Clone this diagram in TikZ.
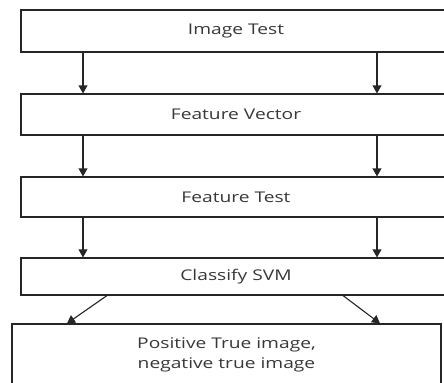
\documentclass[tikz,border=0pt]{standalone}
\usepackage{fontspec}
\setmainfont{Open Sans}[FakeStretch=1.3]
\usepackage{tikz}
\usetikzlibrary{arrows.meta,positioning,calc}

\begin{document}
\begin{tikzpicture}[
  stage/.style={rectangle, draw=black!85, line width=0.8pt, fill=white, text=black!78, font=\fontsize{10.5}{14.2}\selectfont, align=center, inner sep=0pt},
  flow/.style={-{Triangle[length=0.2cm, width=0.22cm]}, line width=0.8pt, black!85},
  >=Stealth
]
  \clip (0, 0) rectangle (11.1, -9.575);
  \useasboundingbox (0, 0) rectangle (11.1, -9.575);

  % Pipeline stages
  \node[stage, minimum width=10.75cm, minimum height=1.05cm] (img) at (5.9, -0.775) {Image Test};
  \node[stage, minimum width=10.75cm, minimum height=1.025cm] (vec) at (5.9, -2.8625) {Feature Vector};
  \node[stage, minimum width=10.75cm, minimum height=1.0cm] (ftest) at (5.9, -4.925) {Feature Test};
  \node[stage, minimum width=10.75cm, minimum height=0.925cm] (svm) at (5.9, -6.9125) {Classify SVM};
  \node[stage, minimum width=10.725cm, minimum height=1.55cm] (res) at (5.6625, -8.875) {Positive True image,\\negative true image};

  % Arrow columns
  \coordinate (colL) at (2.075, 0);
  \coordinate (colR) at (9.425, 0);
  \coordinate (svmL) at (2.675, 0);
  \coordinate (svmR) at (8.575, 0);
  \coordinate (resL) at (1.675, 0);
  \coordinate (resR) at (9.5, 0);

  % Vertical connections
  \foreach \a/\b in {img/vec, vec/ftest, ftest/svm} {
    \draw[flow] (\a.south -| colL) -- (\b.north -| colL);
    \draw[flow] (\a.south -| colR) -- (\b.north -| colR);
  }

  % Split to result
  \draw[flow] (svm.south -| svmL) -- (res.north -| resL);
  \draw[flow] (svm.south -| svmR) -- (res.north -| resR);
\end{tikzpicture}
\end{document}
